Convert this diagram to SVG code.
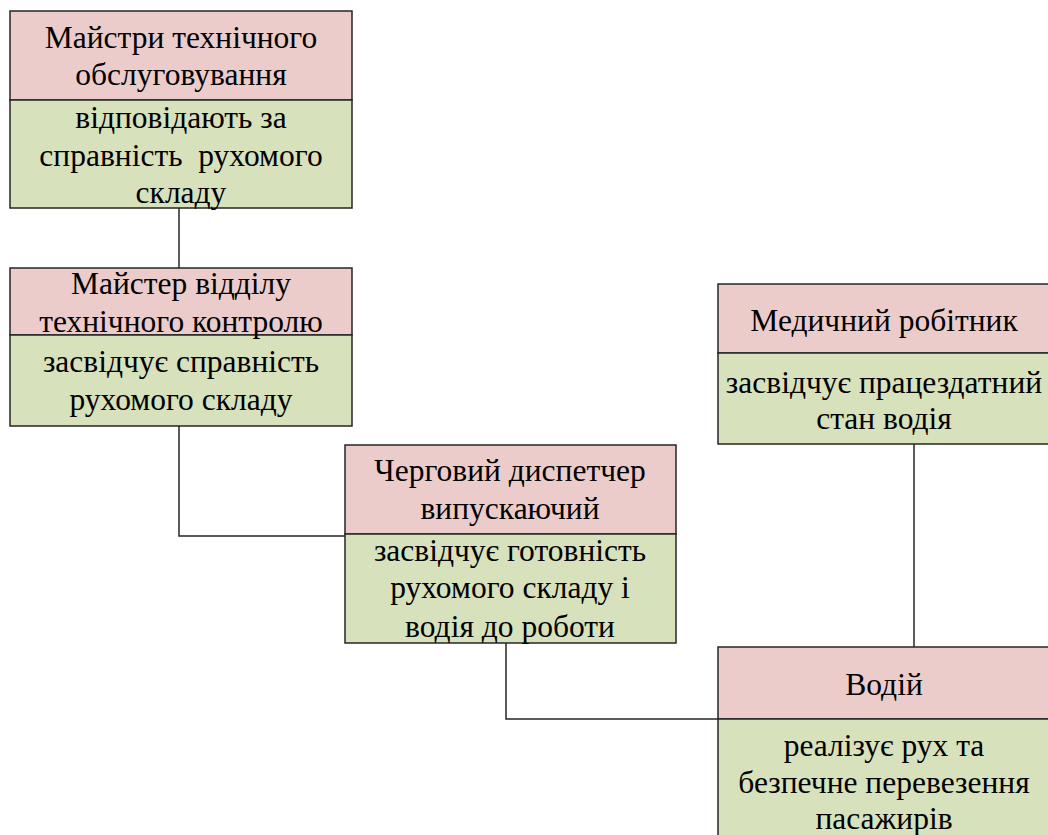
<svg xmlns="http://www.w3.org/2000/svg" width="1048" height="835" viewBox="0 0 1048 835" xml:lang="uk">
<style>
.hdr{fill:#ebcccb;stroke:#262626;stroke-width:1.5}
.bdy{fill:#d7e1bc;stroke:#262626;stroke-width:1.5}
.conn{fill:none;stroke:#262626;stroke-width:1.5}
</style>
<rect width="1048" height="835" fill="#fff"/>
<g id="connectors">
<path class="conn" d="M179 208 V268"/>
<path class="conn" d="M179 426 V536 H345"/>
<path class="conn" d="M506 643 V719 H718"/>
<path class="conn" d="M914 444 V647"/>
</g>
<g font-family="Liberation Serif, Tinos, Times New Roman, serif" font-size="31.5" text-anchor="middle" fill="#000">
<g id="n1">
<rect class="hdr" x="10" y="11" width="342" height="89"/>
<rect class="bdy" x="10" y="100" width="342" height="108"/>
<text x="181" y="48">Майстри технічного</text>
<text x="181" y="85">обслуговування</text>
<text x="181" y="128">відповідають за</text>
<text x="181" y="166" xml:space="preserve">справність  рухомого</text>
<text x="181" y="203">складу</text>
</g>
<g id="n2">
<rect class="hdr" x="10" y="268" width="342" height="67"/>
<rect class="bdy" x="10" y="335" width="342" height="91"/>
<text x="181" y="294">Майстер відділу</text>
<text x="181" y="332">технічного контролю</text>
<text x="181" y="372">засвідчує справність</text>
<text x="181" y="410">рухомого складу</text>
</g>
<g id="n3">
<rect class="hdr" x="345" y="445" width="331" height="89"/>
<rect class="bdy" x="345" y="534" width="331" height="109"/>
<text x="510" y="481">Черговий диспетчер</text>
<text x="510" y="519">випускаючий</text>
<text x="510" y="561">засвідчує готовність</text>
<text x="510" y="598">рухомого складу і</text>
<text x="510" y="637">водія до роботи</text>
</g>
<g id="n4">
<rect class="hdr" x="718" y="284" width="332" height="69"/>
<rect class="bdy" x="718" y="353" width="332" height="91"/>
<text x="884" y="331">Медичний робітник</text>
<text x="884" y="393">засвідчує працездатний</text>
<text x="884" y="429">стан водія</text>
</g>
<g id="n5">
<rect class="hdr" x="718" y="647" width="332" height="72"/>
<rect class="bdy" x="718" y="719" width="332" height="120"/>
<text x="884" y="695">Водій</text>
<text x="884" y="756">реалізує рух та</text>
<text x="884" y="793">безпечне перевезення</text>
<text x="884" y="829">пасажирів</text>
</g>
</g>
</svg>
